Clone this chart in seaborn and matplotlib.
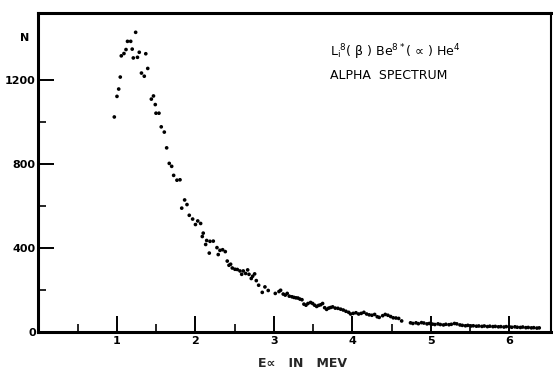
import matplotlib
matplotlib.use("Agg")
import matplotlib.pyplot as plt
import numpy as np
import pandas as pd
import seaborn as sns

# ------------------------------------------------------------
# DATA
# ------------------------------------------------------------
energy_mev = [
    0.966, 1.000, 1.022, 1.042, 1.055, 1.089, 1.115, 1.134, 1.175, 1.194,
    1.208, 1.238, 1.261, 1.284, 1.312, 1.348, 1.367, 1.392, 1.438, 1.465,
    1.488, 1.497, 1.535, 1.564, 1.603, 1.633, 1.666, 1.697, 1.722, 1.764,
    1.803, 1.825, 1.862, 1.892, 1.921, 1.964, 2.000, 2.029, 2.066, 2.087,
    2.099, 2.130, 2.143, 2.176, 2.185, 2.227, 2.274, 2.290, 2.312, 2.346,
    2.380, 2.405, 2.427, 2.448, 2.469, 2.503, 2.533, 2.567, 2.589, 2.609,
    2.639, 2.665, 2.682, 2.711, 2.729, 2.754, 2.775, 2.805, 2.851, 2.885,
    2.927, 3.017, 3.064, 3.085, 3.118, 3.144, 3.169, 3.195, 3.229, 3.255,
    3.280, 3.306, 3.331, 3.357, 3.382, 3.408, 3.433, 3.467, 3.493, 3.518,
    3.544, 3.569, 3.595, 3.620, 3.646, 3.671, 3.697, 3.722, 3.748, 3.781,
    3.815, 3.850, 3.883, 3.917, 3.952, 3.977, 4.010, 4.045, 4.079, 4.112,
    4.146, 4.181, 4.214, 4.248, 4.283, 4.316, 4.341, 4.385, 4.418, 4.452,
    4.487, 4.520, 4.554, 4.589, 4.627,
    4.74, 4.77, 4.81, 4.84, 4.88, 4.91, 4.95, 4.98, 5.02, 5.05,
    5.09, 5.12, 5.16, 5.19, 5.23, 5.26, 5.30, 5.33, 5.37, 5.40,
    5.44, 5.47, 5.51, 5.54, 5.58, 5.61, 5.65, 5.68, 5.72, 5.75,
    5.79, 5.82, 5.86, 5.89, 5.93, 5.96, 6.00, 6.03, 6.07, 6.10,
    6.14, 6.17, 6.21, 6.24, 6.28, 6.31, 6.35, 6.38,
]
counts = [
    1025, 1123, 1158, 1215, 1316, 1327, 1346, 1385, 1385, 1348,
    1306, 1428, 1309, 1333, 1234, 1219, 1326, 1256, 1110, 1125,
    1084, 1043, 1043, 978, 953, 878, 804, 790, 747, 724,
    726, 591, 630, 608, 557, 539, 513, 530, 518, 456,
    472, 418, 437, 377, 433, 434, 403, 370, 390, 393,
    384, 339, 319, 324, 306, 300, 299, 292, 276, 292,
    280, 297, 276, 256, 267, 278, 246, 224, 190, 216,
    199, 185, 194, 200, 182, 177, 185, 172, 169, 166,
    164, 163, 158, 155, 134, 129, 137, 142, 137, 129,
    123, 128, 131, 137, 117, 109, 115, 118, 121, 115,
    114, 110, 106, 100, 95, 87, 90, 93, 87, 90,
    95, 87, 83, 81, 85, 74, 71, 79, 85, 81,
    75, 69, 68, 66, 54,
    45, 42, 45, 41, 46, 44, 40, 42, 39, 37,
    40, 37, 35, 38, 36, 38, 42, 40, 35, 33,
    31, 33, 30, 31, 29, 30, 28, 30, 27, 29,
    27, 28, 26, 27, 25, 27, 26, 24, 26, 24,
    23, 25, 22, 23, 21, 22, 20, 21,
]

x_major = [1, 2, 3, 4, 5, 6]
x_minor = [0.5, 1.5, 2.5, 3.5, 4.5, 5.5]
y_major = [0, 400, 800, 1200]
y_minor = [200, 600, 1000]

annotation_lines = [
    r"L$_\mathregular{i}$$^\mathregular{8}$( β ) Be$^\mathregular{8*}$( ∝ ) He$^\mathregular{4}$",
    "ALPHA  SPECTRUM",
]

# ------------------------------------------------------------
# PLOT
# ------------------------------------------------------------
sns.set_style("ticks")
plt.rcParams["font.family"] = ["DejaVu Sans"]
plt.rcParams["text.color"] = "black"
plt.rcParams["xtick.color"] = "black"
plt.rcParams["ytick.color"] = "black"

df = pd.DataFrame({"E": energy_mev, "N": counts})

fig = plt.figure(figsize=(5.53, 3.69), dpi=100)
ax = fig.add_axes([0.0696, 0.0995, 0.9268, 0.8653])

sns.scatterplot(data=df, x="E", y="N", ax=ax, s=7, color="black",
                edgecolor="none", linewidth=0)

ax.set_xlim(0, 6.53)
ax.set_ylim(0, 1520)

ax.set_xticks(x_major)
ax.set_xticks(x_minor, minor=True)
ax.set_yticks(y_major)
ax.set_yticks(y_minor, minor=True)
ax.set_yticklabels([str(v) for v in y_major], fontsize=8, fontweight="bold")
ax.set_xticklabels([str(v) for v in x_major], fontsize=8, fontweight="bold")

ax.tick_params(which="major", direction="in", length=11.5, width=1.4, pad=2)
ax.tick_params(which="minor", direction="in", length=5.5, width=1.2)
ax.tick_params(axis="x", which="major", pad=3)

for side in ["left", "bottom", "top", "right"]:
    ax.spines[side].set_linewidth(2.2)
    ax.spines[side].set_color("black")
ax.spines["right"].set_linewidth(1.5)

ax.set_xlabel("E∝   IN   MEV", fontsize=9, fontweight="bold")
ax.xaxis.set_label_coords(0.515, -0.078)
ax.set_ylabel("")

ax.text(-0.028, 1400, "N", transform=ax.get_yaxis_transform(),
        ha="center", va="center", fontsize=8, fontweight="bold")

ax.text(0.568, 0.878, annotation_lines[0], transform=ax.transAxes,
        ha="left", va="center", fontsize=9)
ax.text(0.568, 0.805, annotation_lines[1], transform=ax.transAxes,
        ha="left", va="center", fontsize=9)

fig.savefig("out.png", dpi=100)
plt.close(fig)
